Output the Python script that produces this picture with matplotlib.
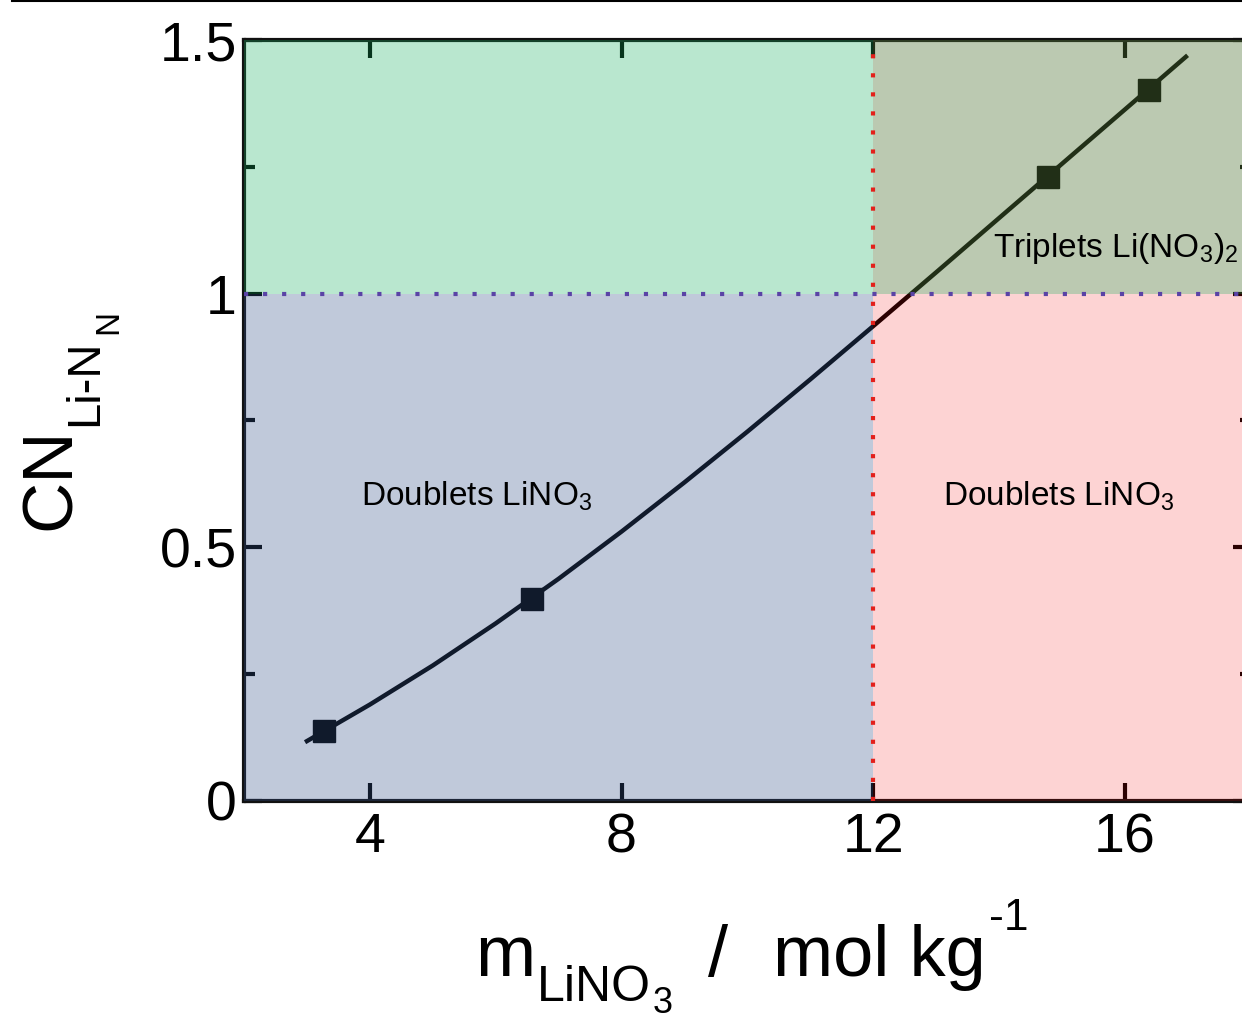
import matplotlib
matplotlib.use("Agg")
import matplotlib.pyplot as plt
from matplotlib.patches import Rectangle
from matplotlib.lines import Line2D

plt.rcParams["font.family"] = ["Liberation Sans", "DejaVu Sans"]
plt.rcParams["mathtext.fontset"] = "custom"
plt.rcParams["mathtext.rm"] = "Liberation Sans"
plt.rcParams["mathtext.it"] = "Liberation Sans"

# simulated points (squares)
m_pts = [3.27, 6.57, 14.78, 16.38]
cn_pts = [0.138, 0.398, 1.230, 1.402]

# guide curve
m_fit = [3.0, 4.0, 5.0, 6.0, 7.0, 8.0, 9.0, 10.0, 11.0, 12.0, 13.0, 14.0, 15.0, 16.0, 16.97]
cn_fit = [0.118, 0.190, 0.267, 0.350, 0.438, 0.531, 0.628, 0.728, 0.831, 0.936,
          1.042, 1.149, 1.256, 1.363, 1.467]

x_split = 12
y_split = 1
xlim = (2, 18)
ylim = (0, 1.5)

W, H = 1242, 1019
fig = plt.figure(figsize=(W / 100, H / 100), dpi=100)
ax = fig.add_axes([0.1965, 0.214, 0.8105, 0.7467])

ax.plot(m_fit, cn_fit, color="black", lw=3.2, zorder=2)
ax.plot(m_pts, cn_pts, "s", color="black", ms=16.5, zorder=2)

# coloured regions laid over the data (tints the line like in the figure)
regions = [
    (xlim[0], 0, x_split - xlim[0], y_split, "#36538c", 0.315),
    (x_split, 0, xlim[1] - x_split, y_split, "#f40b0b", 0.18),
    (xlim[0], y_split, x_split - xlim[0], ylim[1] - y_split, "#19b262", 0.30),
    (x_split, y_split, xlim[1] - x_split, ylim[1] - y_split, "#55783c", 0.40),
]
for x0, y0, w, h, c, a in regions:
    ax.add_patch(Rectangle((x0, y0), w, h, facecolor=c, alpha=a, lw=0, zorder=3))

ax.plot([x_split, x_split], ylim, color="#e3201b", lw=3, dashes=(1, 3.57), zorder=4)
ax.plot(xlim, [y_split, y_split], color="#5a43a6", lw=3, dashes=(1, 3.57), zorder=4)

ax.text(5.7, 0.6, r"Doublets LiNO$_3$", fontsize=24, ha="center", va="center", zorder=5)
ax.text(14.94, 0.6, r"Doublets LiNO$_3$", fontsize=24, ha="center", va="center", zorder=5)
ax.text(15.85, 1.09, r"Triplets Li(NO$_3$)$_2$", fontsize=24, ha="center", va="center", zorder=5)

ax.set_xlim(*xlim)
ax.set_ylim(*ylim)
ax.set_xticks([4, 8, 12, 16])
ax.set_yticks([0, 0.5, 1, 1.5])
ax.set_yticklabels(["0", "0.5", "1", "1.5"])
ax.set_yticks([0.25, 0.75, 1.25], minor=True)
ax.tick_params(which="both", direction="in", top=True, right=True, width=3, labelsize=40)
ax.tick_params(which="major", length=13)
ax.tick_params(which="minor", length=8)
ax.tick_params(axis="y", pad=5)
ax.tick_params(axis="x", pad=8)
for s in ax.spines.values():
    s.set_linewidth(3)
    s.set_color("#111111")


def label(txt, px, py, size, rot=0):
    fig.text(px / W, 1 - py / H, txt, fontsize=size, rotation=rot,
             rotation_mode="anchor", ha="left", va="baseline")


# x axis title, pieced together
label("m", 475, 976, 52)
label("LiNO", 537, 1001, 36)
label("3", 653, 1013, 26)
label("/", 708, 976, 52)
label("mol kg", 773, 976, 52)
label("-1", 989, 930, 32)

# y axis title
label("CN", 70, 530, 51, 90)
label("Li-N", 97, 426, 34, 90)
label("N", 117, 334, 24, 90)

fig.add_artist(Line2D([0.01, 1.0], [0.999, 0.999], color="black", lw=1.5))

fig.savefig("out.png", dpi=100)
